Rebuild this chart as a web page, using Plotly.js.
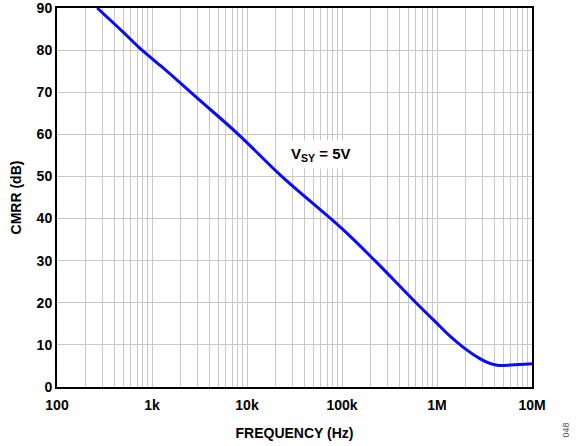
<!DOCTYPE html>
<html>
<head>
<meta charset="utf-8">
<script src="https://cdn.plot.ly/plotly-3.0.1.min.js"></script>
<style>html,body{margin:0;padding:0;background:#fff}#chart{width:576px;height:446px}</style>
</head>
<body>
<div id="chart"></div>
<script>
var freqHz = [265, 500, 748, 1000, 1150, 1310, 3000, 8100, 23200, 100000, 222000, 601000, 1000000, 1400000, 1850000, 2800000, 3600000, 4500000, 6000000, 10000000];
var cmrrDb = [90, 84.2, 80.4, 78.0, 76.8, 75.8, 68.6, 60.0, 50.0, 37.6, 30.0, 20.0, 15.1, 11.9, 9.6, 6.8, 5.6, 5.1, 5.2, 5.5];
var majorTicks = [100, 1000, 10000, 100000, 1000000, 10000000];
var majorLabels = ['100', '1k', '10k', '100k', '1M', '10M'];
var yTicks = [0, 10, 20, 30, 40, 50, 60, 70, 80, 90];
var annotationText = 'V<sub>SY</sub> = 5V';
var figureId = '048';

var tickvals = [], ticktext = [];
for (var d = 0; d < majorTicks.length; d++) {
  var base = majorTicks[d];
  for (var m = 1; m <= 9; m++) {
    if (d === majorTicks.length - 1 && m > 1) break;
    tickvals.push(base * m);
    ticktext.push(m === 1 ? '<b>' + majorLabels[d] + '</b>' : '');
  }
}
var yText = yTicks.map(function (v) { return '<b>' + v + '</b>'; });

var fam = 'Liberation Sans, Arial, sans-serif';
var trace = {
  x: freqHz, y: cmrrDb, type: 'scatter', mode: 'lines',
  line: {color: '#0a0aff', width: 3, shape: 'spline', smoothing: 1},
  hoverinfo: 'skip', cliponaxis: true
};
var layout = {
  width: 576, height: 446,
  margin: {l: 57, r: 44, t: 8, b: 59},
  paper_bgcolor: '#fff', plot_bgcolor: '#fff',
  showlegend: false,
  font: {family: fam, size: 14, color: '#000'},
  xaxis: {
    type: 'log', range: [2, 7],
    tickmode: 'array', tickvals: tickvals, ticktext: ticktext,
    showgrid: true, gridcolor: '#c8c8c8', gridwidth: 1,
    showline: true, linecolor: '#000', linewidth: 2, mirror: true,
    ticks: 'outside', ticklen: 4, tickcolor: 'rgba(0,0,0,0)', zeroline: false,
    ticklabeloverflow: 'allow',
    tickfont: {family: fam, size: 14, color: '#000'},
    title: {text: '<b>FREQUENCY (Hz)</b>', font: {family: fam, size: 14, color: '#000'}, standoff: 16}
  },
  yaxis: {
    range: [0, 90], tickmode: 'array', tickvals: yTicks, ticktext: yText,
    showgrid: true, gridcolor: '#c8c8c8', gridwidth: 1,
    showline: true, linecolor: '#000', linewidth: 2, mirror: true,
    ticks: '', zeroline: false,
    ticklabeloverflow: 'allow',
    tickfont: {family: fam, size: 14, color: '#000'},
    title: {text: '<b>CMRR (dB)</b>', font: {family: fam, size: 14, color: '#000'}, standoff: 12}
  },
  annotations: [
    {x: 4.77, y: 55.3, xref: 'x', yref: 'y', text: '<b>' + annotationText + '</b>', showarrow: false,
     font: {family: fam, size: 15, color: '#000'}, bgcolor: '#fff', borderpad: 4},
    {x: 1.0716, y: -0.115, xref: 'paper', yref: 'paper', text: figureId, textangle: -90, showarrow: false,
     font: {family: fam, size: 9, color: '#555'}, xanchor: 'center', yanchor: 'middle'}
  ]
};
Plotly.newPlot('chart', [trace], layout, {staticPlot: true, displayModeBar: false});
</script>
</body>
</html>
